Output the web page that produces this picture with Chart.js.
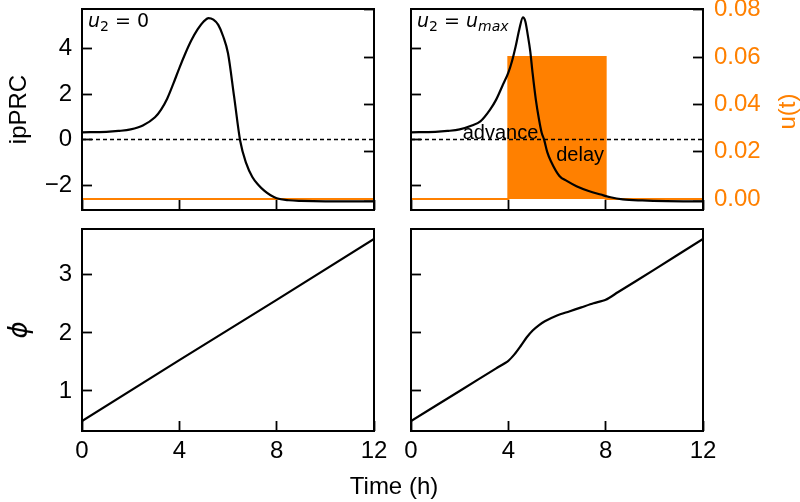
<!DOCTYPE html>
<html>
<head>
<meta charset="utf-8">
<script src="https://cdn.jsdelivr.net/npm/chart.js@4.4.1/dist/chart.umd.min.js"></script>
<style>
html, body { margin: 0; padding: 0; background: #fff; }
#wrap { position: relative; width: 800px; height: 502px; }
#wrap canvas { position: absolute; left: 0; top: 0; }
</style>
</head>
<body>
<div id="wrap">
  <canvas id="tl" width="800" height="502"></canvas>
  <canvas id="tr" width="800" height="502"></canvas>
  <canvas id="bl" width="800" height="502"></canvas>
  <canvas id="br" width="800" height="502"></canvas>
</div>
<script>
// tick values
const timeTicks = [0, 4, 8, 12];
const prcTicks = [-2, 0, 2, 4];
const uTicks = [0, 0.02, 0.04, 0.06, 0.08];
const phiTicks = [1, 2, 3];

// ipPRC with u2 = 0
const prcTime0 = [0, 1, 1.5, 2, 2.5, 3, 3.25, 3.5, 3.75, 4, 4.25, 4.5, 4.75, 5, 5.2, 5.4, 5.6, 5.8, 6, 6.25, 6.5, 6.75, 7, 7.25, 7.5, 7.75, 8, 8.5, 9, 10, 11, 12];
const prcVal0 = [0.32, 0.34, 0.38, 0.45, 0.62, 0.98, 1.32, 1.8, 2.45, 3.15, 3.8, 4.38, 4.85, 5.2, 5.35, 5.28, 5.05, 4.55, 3.8, 1.9, -0.05, -1.05, -1.65, -2.0, -2.26, -2.45, -2.58, -2.67, -2.7, -2.72, -2.72, -2.72];

// ipPRC with u2 = umax
const prcTime1 = [0, 1, 1.5, 2, 2.5, 2.85, 3.25, 3.5, 3.75, 4, 4.15, 4.3, 4.45, 4.6, 4.7, 4.8, 4.9, 5.0, 5.13, 5.25, 5.37, 5.47, 5.6, 5.75, 6.1, 6.4, 6.8, 7.3, 7.8, 8.2, 8.7, 9.5, 10.5, 12];
const prcVal1 = [0.32, 0.34, 0.38, 0.45, 0.62, 0.8, 1.32, 1.76, 2.35, 2.95, 3.45, 4.1, 4.85, 5.38, 5.2, 4.6, 3.9, 2.9, 1.76, 0.95, 0.3, 0.0, -0.55, -0.95, -1.6, -1.82, -2.05, -2.26, -2.42, -2.54, -2.63, -2.68, -2.71, -2.72];

// light input u(t)
const uTime0 = [0, 12];
const uVal0 = [0, 0];
const uTime1 = [0, 4, 4, 8, 8, 12];
const uVal1 = [0, 0, 0.06, 0.06, 0, 0];

// phase
const phiTime0 = [0, 4, 8, 12];
const phiVal0 = [0.48, 1.53, 2.57, 3.62];
const phiTime1 = [0, 2, 3.5, 4, 4.25, 4.5, 4.75, 5, 5.25, 5.5, 6, 6.5, 7, 7.5, 8, 8.5, 10, 12];
const phiVal1 = [0.48, 1.0, 1.39, 1.52, 1.63, 1.77, 1.92, 2.04, 2.13, 2.2, 2.3, 2.37, 2.44, 2.51, 2.57, 2.7, 3.09, 3.62];

const ORANGE = '#ff8000';
const FONT = '"Liberation Sans", Arial, sans-serif';
Chart.defaults.font.family = FONT;
Chart.defaults.color = '#000';

function pts(xs, ys) {
  return xs.map((x, i) => ({ x: x, y: ys[i] }));
}

const tickGrid = { drawOnChartArea: false, drawTicks: true, tickLength: -10, tickColor: '#000', tickWidth: 1.8 };

function setTicks(list) {
  return function(s) { s.ticks = list.map(v => ({ value: v })); };
}
function minus(v) {
  return v < 0 ? '\u2212' + Math.abs(v) : String(v);
}

function xAxis(h, labels) {
  return {
    type: 'linear', position: 'bottom', min: 0, max: 12,
    afterBuildTicks: setTicks(timeTicks),
    ticks: { display: labels, padding: 16, font: { size: 24 }, color: '#000', maxRotation: 0, autoSkip: false },
    grid: tickGrid, border: { display: false },
    afterFit: function(s) { s.height = h; s.paddingLeft = 0; s.paddingRight = 0; }
  };
}

function yAxis(pos, w, min, max, list, tickOpts, title) {
  return {
    type: 'linear', position: pos, min: min, max: max,
    afterBuildTicks: setTicks(list),
    ticks: Object.assign({ padding: 20, font: { size: 24 }, color: '#000', autoSkip: false }, tickOpts),
    grid: tickGrid, border: { display: false },
    title: title || { display: false },
    afterFit: function(s) { s.width = w; s.paddingTop = 0; s.paddingBottom = 0; }
  };
}

const frame = {
  id: 'frame',
  afterDraw(chart) {
    const a = chart.chartArea, c = chart.ctx;
    c.save();
    c.strokeStyle = '#000';
    c.lineWidth = 2;
    c.strokeRect(a.left, a.top, a.right - a.left, a.bottom - a.top);
    c.restore();
  }
};

function mathText(ctx, x, y, parts) {
  ctx.save();
  ctx.fillStyle = '#000';
  ctx.textAlign = 'left';
  ctx.textBaseline = 'alphabetic';
  parts.forEach(function(p) {
    ctx.font = p.f;
    ctx.fillText(p.t, x, y + (p.dy || 0));
    x += ctx.measureText(p.t).width;
  });
  ctx.restore();
}
const MI = 'italic 19px "DejaVu Sans"', MR = '19px "DejaVu Sans"';
const SR = '14px "DejaVu Sans"', SI = 'italic 14px "DejaVu Sans"';

function panel(id, pad, scales, datasets, draw) {
  return new Chart(document.getElementById(id), {
    type: 'line',
    data: { datasets: datasets },
    options: {
      responsive: false, animation: false, devicePixelRatio: 1,
      layout: { padding: pad },
      plugins: { legend: { display: false }, tooltip: { enabled: false } },
      elements: { point: { radius: 0 } },
      scales: scales
    },
    plugins: [frame, { id: 'txt', afterDatasetsDraw: draw }]
  });
}

function prcSet(xs, ys) {
  return { data: pts(xs, ys), yAxisID: 'y', borderColor: '#000', borderWidth: 2.2, cubicInterpolationMode: 'monotone', order: 1 };
}
function zeroSet() {
  return { data: pts([0, 12], [0, 0]), yAxisID: 'y', borderColor: '#000', borderWidth: 1.5, borderDash: [4, 3], order: 2 };
}
function uSet(xs, ys) {
  return { data: pts(xs, ys), yAxisID: 'y2', borderColor: ORANGE, backgroundColor: ORANGE, borderWidth: 2, tension: 0, fill: 'origin', order: 3 };
}

const prcTitle = { display: true, text: 'ipPRC', font: { size: 24 }, padding: 0, color: '#000' };
const phiTitle = { display: true, text: '\u03d5', font: { size: 26, style: 'italic', family: '"DejaVu Sans"' }, padding: 0, color: '#000' };

// top left: u2 = 0
panel('tl', { left: 5, top: 9, right: 416, bottom: 282 }, {
  x: xAxis(10, false),
  y: yAxis('left', 77, -3.1, 5.75, prcTicks, { callback: minus }, prcTitle),
  y2: yAxis('right', 10, -0.0046, 0.0803, uTicks, { display: false })
}, [prcSet(prcTime0, prcVal0), zeroSet(), uSet(uTime0, uVal0)], function(chart) {
  const a = chart.chartArea;
  mathText(chart.ctx, a.left + 6, a.top + 18, [
    { t: 'u', f: MI }, { t: '2', f: SR, dy: 4 }, { t: ' = 0', f: MR }
  ]);
});

// top right: u2 = umax
panel('tr', { left: 401, top: 9, right: 0, bottom: 282 }, {
  x: xAxis(10, false),
  y: yAxis('left', 10, -3.1, 5.75, prcTicks, { display: false }),
  y2: yAxis('right', 97, -0.0046, 0.0803, uTicks, { color: ORANGE, padding: 21, callback: v => v.toFixed(2) })
}, [prcSet(prcTime1, prcVal1), zeroSet(), uSet(uTime1, uVal1)], function(chart) {
  const a = chart.chartArea, c = chart.ctx;
  const sx = chart.scales.x, sy = chart.scales.y;
  mathText(c, a.left + 6, a.top + 18, [
    { t: 'u', f: MI }, { t: '2', f: SR, dy: 4 }, { t: ' = ', f: MR }, { t: 'u', f: MI }, { t: 'max', f: SI, dy: 4 }
  ]);
  c.save();
  c.fillStyle = '#000';
  c.font = '20px ' + FONT;
  c.textAlign = 'center';
  c.textBaseline = 'alphabetic';
  c.fillText('advance', sx.getPixelForValue(3.68), sy.getPixelForValue(0) - 1);
  c.fillText('delay', sx.getPixelForValue(6.95), sy.getPixelForValue(0) + 21);
  c.translate(a.right + 85, (a.top + a.bottom) / 2 + 2);
  c.rotate(-Math.PI / 2);
  c.fillStyle = ORANGE;
  c.font = '24px ' + FONT;
  c.textBaseline = 'middle';
  c.fillText('u(t)', 0, 0);
  c.restore();
});

// bottom left
panel('bl', { left: 5, top: 229, right: 426, bottom: 0 }, {
  x: xAxis(71, true),
  y: yAxis('left', 77, 0.31, 3.79, phiTicks, {}, phiTitle)
}, [{ data: pts(phiTime0, phiVal0), borderColor: '#000', borderWidth: 2.2, tension: 0 }], function(chart) {
  const a = chart.chartArea, c = chart.ctx;
  c.save();
  c.fillStyle = '#000';
  c.font = '24px ' + FONT;
  c.textAlign = 'center';
  c.textBaseline = 'alphabetic';
  c.fillText('Time (h)', a.right + 20, 494);
  c.restore();
});

// bottom right
panel('br', { left: 401, top: 229, right: 97, bottom: 0 }, {
  x: xAxis(71, true),
  y: yAxis('left', 10, 0.31, 3.79, phiTicks, { display: false })
}, [{ data: pts(phiTime1, phiVal1), borderColor: '#000', borderWidth: 2.2, tension: 0.25 }], function() {});
</script>
</body>
</html>
